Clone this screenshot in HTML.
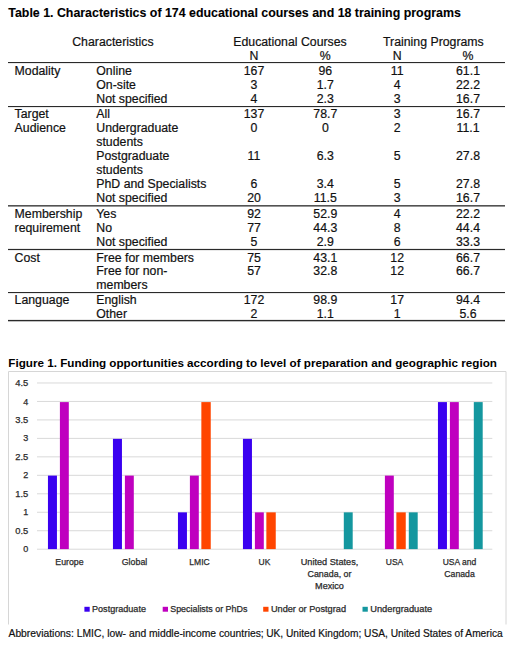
<!DOCTYPE html>
<html><head><meta charset="utf-8"><style>
html,body{margin:0;padding:0;background:#fff;}
body{width:520px;height:647px;overflow:hidden;}
svg{display:block;font-family:"Liberation Sans", sans-serif;}
</style></head><body>
<svg width="520" height="647" viewBox="0 0 520 647">
<rect width="520" height="647" fill="#fff"/>
<text x="8.3" y="16.70" font-size="12.3" text-anchor="start" font-weight="700" fill="#000" textLength="452.5" lengthAdjust="spacingAndGlyphs" stroke="#000" stroke-width="0.1">Table 1. Characteristics of 174 educational courses and 18 training programs</text>
<text x="112.9" y="45.80" font-size="12.3" text-anchor="middle" font-weight="400" fill="#111" stroke="#111" stroke-width="0.2">Characteristics</text>
<text x="290" y="45.80" font-size="12.3" text-anchor="middle" font-weight="400" fill="#111" stroke="#111" stroke-width="0.2">Educational Courses</text>
<text x="433.4" y="45.80" font-size="12.3" text-anchor="middle" font-weight="400" fill="#111" stroke="#111" stroke-width="0.2">Training Programs</text>
<text x="254" y="59.80" font-size="12.3" text-anchor="middle" font-weight="400" fill="#111" stroke="#111" stroke-width="0.2">N</text>
<text x="397.2" y="59.80" font-size="12.3" text-anchor="middle" font-weight="400" fill="#111" stroke="#111" stroke-width="0.2">N</text>
<text x="325.3" y="59.80" font-size="12.3" text-anchor="middle" font-weight="400" fill="#111" stroke="#111" stroke-width="0.2">%</text>
<text x="468" y="59.80" font-size="12.3" text-anchor="middle" font-weight="400" fill="#111" stroke="#111" stroke-width="0.2">%</text>
<text x="14.6" y="74.90" font-size="12.3" text-anchor="start" font-weight="400" fill="#111" stroke="#111" stroke-width="0.2">Modality</text>
<text x="96.3" y="74.90" font-size="12.3" text-anchor="start" font-weight="400" fill="#111" stroke="#111" stroke-width="0.2">Online</text>
<text x="254" y="74.90" font-size="12.3" text-anchor="middle" font-weight="400" fill="#111" stroke="#111" stroke-width="0.2">167</text>
<text x="325.3" y="74.90" font-size="12.3" text-anchor="middle" font-weight="400" fill="#111" stroke="#111" stroke-width="0.2">96</text>
<text x="397.2" y="74.90" font-size="12.3" text-anchor="middle" font-weight="400" fill="#111" stroke="#111" stroke-width="0.2">11</text>
<text x="468" y="74.90" font-size="12.3" text-anchor="middle" font-weight="400" fill="#111" stroke="#111" stroke-width="0.2">61.1</text>
<text x="96.3" y="88.80" font-size="12.3" text-anchor="start" font-weight="400" fill="#111" stroke="#111" stroke-width="0.2">On-site</text>
<text x="254" y="88.80" font-size="12.3" text-anchor="middle" font-weight="400" fill="#111" stroke="#111" stroke-width="0.2">3</text>
<text x="325.3" y="88.80" font-size="12.3" text-anchor="middle" font-weight="400" fill="#111" stroke="#111" stroke-width="0.2">1.7</text>
<text x="397.2" y="88.80" font-size="12.3" text-anchor="middle" font-weight="400" fill="#111" stroke="#111" stroke-width="0.2">4</text>
<text x="468" y="88.80" font-size="12.3" text-anchor="middle" font-weight="400" fill="#111" stroke="#111" stroke-width="0.2">22.2</text>
<text x="96.3" y="102.90" font-size="12.3" text-anchor="start" font-weight="400" fill="#111" stroke="#111" stroke-width="0.2">Not specified</text>
<text x="254" y="102.90" font-size="12.3" text-anchor="middle" font-weight="400" fill="#111" stroke="#111" stroke-width="0.2">4</text>
<text x="325.3" y="102.90" font-size="12.3" text-anchor="middle" font-weight="400" fill="#111" stroke="#111" stroke-width="0.2">2.3</text>
<text x="397.2" y="102.90" font-size="12.3" text-anchor="middle" font-weight="400" fill="#111" stroke="#111" stroke-width="0.2">3</text>
<text x="468" y="102.90" font-size="12.3" text-anchor="middle" font-weight="400" fill="#111" stroke="#111" stroke-width="0.2">16.7</text>
<text x="14.6" y="118.20" font-size="12.3" text-anchor="start" font-weight="400" fill="#111" stroke="#111" stroke-width="0.2">Target</text>
<text x="96.3" y="118.20" font-size="12.3" text-anchor="start" font-weight="400" fill="#111" stroke="#111" stroke-width="0.2">All</text>
<text x="254" y="118.20" font-size="12.3" text-anchor="middle" font-weight="400" fill="#111" stroke="#111" stroke-width="0.2">137</text>
<text x="325.3" y="118.20" font-size="12.3" text-anchor="middle" font-weight="400" fill="#111" stroke="#111" stroke-width="0.2">78.7</text>
<text x="397.2" y="118.20" font-size="12.3" text-anchor="middle" font-weight="400" fill="#111" stroke="#111" stroke-width="0.2">3</text>
<text x="468" y="118.20" font-size="12.3" text-anchor="middle" font-weight="400" fill="#111" stroke="#111" stroke-width="0.2">16.7</text>
<text x="14.6" y="132.10" font-size="12.3" text-anchor="start" font-weight="400" fill="#111" stroke="#111" stroke-width="0.2">Audience</text>
<text x="96.3" y="132.10" font-size="12.3" text-anchor="start" font-weight="400" fill="#111" stroke="#111" stroke-width="0.2">Undergraduate</text>
<text x="254" y="132.10" font-size="12.3" text-anchor="middle" font-weight="400" fill="#111" stroke="#111" stroke-width="0.2">0</text>
<text x="325.3" y="132.10" font-size="12.3" text-anchor="middle" font-weight="400" fill="#111" stroke="#111" stroke-width="0.2">0</text>
<text x="397.2" y="132.10" font-size="12.3" text-anchor="middle" font-weight="400" fill="#111" stroke="#111" stroke-width="0.2">2</text>
<text x="468" y="132.10" font-size="12.3" text-anchor="middle" font-weight="400" fill="#111" stroke="#111" stroke-width="0.2">11.1</text>
<text x="96.3" y="146.00" font-size="12.3" text-anchor="start" font-weight="400" fill="#111" stroke="#111" stroke-width="0.2">students</text>
<text x="96.3" y="159.90" font-size="12.3" text-anchor="start" font-weight="400" fill="#111" stroke="#111" stroke-width="0.2">Postgraduate</text>
<text x="254" y="159.90" font-size="12.3" text-anchor="middle" font-weight="400" fill="#111" stroke="#111" stroke-width="0.2">11</text>
<text x="325.3" y="159.90" font-size="12.3" text-anchor="middle" font-weight="400" fill="#111" stroke="#111" stroke-width="0.2">6.3</text>
<text x="397.2" y="159.90" font-size="12.3" text-anchor="middle" font-weight="400" fill="#111" stroke="#111" stroke-width="0.2">5</text>
<text x="468" y="159.90" font-size="12.3" text-anchor="middle" font-weight="400" fill="#111" stroke="#111" stroke-width="0.2">27.8</text>
<text x="96.3" y="173.80" font-size="12.3" text-anchor="start" font-weight="400" fill="#111" stroke="#111" stroke-width="0.2">students</text>
<text x="96.3" y="187.80" font-size="12.3" text-anchor="start" font-weight="400" fill="#111" stroke="#111" stroke-width="0.2">PhD and Specialists</text>
<text x="254" y="187.80" font-size="12.3" text-anchor="middle" font-weight="400" fill="#111" stroke="#111" stroke-width="0.2">6</text>
<text x="325.3" y="187.80" font-size="12.3" text-anchor="middle" font-weight="400" fill="#111" stroke="#111" stroke-width="0.2">3.4</text>
<text x="397.2" y="187.80" font-size="12.3" text-anchor="middle" font-weight="400" fill="#111" stroke="#111" stroke-width="0.2">5</text>
<text x="468" y="187.80" font-size="12.3" text-anchor="middle" font-weight="400" fill="#111" stroke="#111" stroke-width="0.2">27.8</text>
<text x="96.3" y="201.80" font-size="12.3" text-anchor="start" font-weight="400" fill="#111" stroke="#111" stroke-width="0.2">Not specified</text>
<text x="254" y="201.80" font-size="12.3" text-anchor="middle" font-weight="400" fill="#111" stroke="#111" stroke-width="0.2">20</text>
<text x="325.3" y="201.80" font-size="12.3" text-anchor="middle" font-weight="400" fill="#111" stroke="#111" stroke-width="0.2">11.5</text>
<text x="397.2" y="201.80" font-size="12.3" text-anchor="middle" font-weight="400" fill="#111" stroke="#111" stroke-width="0.2">3</text>
<text x="468" y="201.80" font-size="12.3" text-anchor="middle" font-weight="400" fill="#111" stroke="#111" stroke-width="0.2">16.7</text>
<text x="14.6" y="218.00" font-size="12.3" text-anchor="start" font-weight="400" fill="#111" stroke="#111" stroke-width="0.2">Membership</text>
<text x="96.3" y="218.00" font-size="12.3" text-anchor="start" font-weight="400" fill="#111" stroke="#111" stroke-width="0.2">Yes</text>
<text x="254" y="218.00" font-size="12.3" text-anchor="middle" font-weight="400" fill="#111" stroke="#111" stroke-width="0.2">92</text>
<text x="325.3" y="218.00" font-size="12.3" text-anchor="middle" font-weight="400" fill="#111" stroke="#111" stroke-width="0.2">52.9</text>
<text x="397.2" y="218.00" font-size="12.3" text-anchor="middle" font-weight="400" fill="#111" stroke="#111" stroke-width="0.2">4</text>
<text x="468" y="218.00" font-size="12.3" text-anchor="middle" font-weight="400" fill="#111" stroke="#111" stroke-width="0.2">22.2</text>
<text x="14.6" y="232.00" font-size="12.3" text-anchor="start" font-weight="400" fill="#111" stroke="#111" stroke-width="0.2">requirement</text>
<text x="96.3" y="232.00" font-size="12.3" text-anchor="start" font-weight="400" fill="#111" stroke="#111" stroke-width="0.2">No</text>
<text x="254" y="232.00" font-size="12.3" text-anchor="middle" font-weight="400" fill="#111" stroke="#111" stroke-width="0.2">77</text>
<text x="325.3" y="232.00" font-size="12.3" text-anchor="middle" font-weight="400" fill="#111" stroke="#111" stroke-width="0.2">44.3</text>
<text x="397.2" y="232.00" font-size="12.3" text-anchor="middle" font-weight="400" fill="#111" stroke="#111" stroke-width="0.2">8</text>
<text x="468" y="232.00" font-size="12.3" text-anchor="middle" font-weight="400" fill="#111" stroke="#111" stroke-width="0.2">44.4</text>
<text x="96.3" y="246.10" font-size="12.3" text-anchor="start" font-weight="400" fill="#111" stroke="#111" stroke-width="0.2">Not specified</text>
<text x="254" y="246.10" font-size="12.3" text-anchor="middle" font-weight="400" fill="#111" stroke="#111" stroke-width="0.2">5</text>
<text x="325.3" y="246.10" font-size="12.3" text-anchor="middle" font-weight="400" fill="#111" stroke="#111" stroke-width="0.2">2.9</text>
<text x="397.2" y="246.10" font-size="12.3" text-anchor="middle" font-weight="400" fill="#111" stroke="#111" stroke-width="0.2">6</text>
<text x="468" y="246.10" font-size="12.3" text-anchor="middle" font-weight="400" fill="#111" stroke="#111" stroke-width="0.2">33.3</text>
<text x="14.6" y="261.50" font-size="12.3" text-anchor="start" font-weight="400" fill="#111" stroke="#111" stroke-width="0.2">Cost</text>
<text x="96.3" y="261.50" font-size="12.3" text-anchor="start" font-weight="400" fill="#111" stroke="#111" stroke-width="0.2">Free for members</text>
<text x="254" y="261.50" font-size="12.3" text-anchor="middle" font-weight="400" fill="#111" stroke="#111" stroke-width="0.2">75</text>
<text x="325.3" y="261.50" font-size="12.3" text-anchor="middle" font-weight="400" fill="#111" stroke="#111" stroke-width="0.2">43.1</text>
<text x="397.2" y="261.50" font-size="12.3" text-anchor="middle" font-weight="400" fill="#111" stroke="#111" stroke-width="0.2">12</text>
<text x="468" y="261.50" font-size="12.3" text-anchor="middle" font-weight="400" fill="#111" stroke="#111" stroke-width="0.2">66.7</text>
<text x="96.3" y="275.10" font-size="12.3" text-anchor="start" font-weight="400" fill="#111" stroke="#111" stroke-width="0.2">Free for non-</text>
<text x="254" y="275.10" font-size="12.3" text-anchor="middle" font-weight="400" fill="#111" stroke="#111" stroke-width="0.2">57</text>
<text x="325.3" y="275.10" font-size="12.3" text-anchor="middle" font-weight="400" fill="#111" stroke="#111" stroke-width="0.2">32.8</text>
<text x="397.2" y="275.10" font-size="12.3" text-anchor="middle" font-weight="400" fill="#111" stroke="#111" stroke-width="0.2">12</text>
<text x="468" y="275.10" font-size="12.3" text-anchor="middle" font-weight="400" fill="#111" stroke="#111" stroke-width="0.2">66.7</text>
<text x="96.3" y="289.00" font-size="12.3" text-anchor="start" font-weight="400" fill="#111" stroke="#111" stroke-width="0.2">members</text>
<text x="14.6" y="304.00" font-size="12.3" text-anchor="start" font-weight="400" fill="#111" stroke="#111" stroke-width="0.2">Language</text>
<text x="96.3" y="304.00" font-size="12.3" text-anchor="start" font-weight="400" fill="#111" stroke="#111" stroke-width="0.2">English</text>
<text x="254" y="304.00" font-size="12.3" text-anchor="middle" font-weight="400" fill="#111" stroke="#111" stroke-width="0.2">172</text>
<text x="325.3" y="304.00" font-size="12.3" text-anchor="middle" font-weight="400" fill="#111" stroke="#111" stroke-width="0.2">98.9</text>
<text x="397.2" y="304.00" font-size="12.3" text-anchor="middle" font-weight="400" fill="#111" stroke="#111" stroke-width="0.2">17</text>
<text x="468" y="304.00" font-size="12.3" text-anchor="middle" font-weight="400" fill="#111" stroke="#111" stroke-width="0.2">94.4</text>
<text x="96.3" y="318.00" font-size="12.3" text-anchor="start" font-weight="400" fill="#111" stroke="#111" stroke-width="0.2">Other</text>
<text x="254" y="318.00" font-size="12.3" text-anchor="middle" font-weight="400" fill="#111" stroke="#111" stroke-width="0.2">2</text>
<text x="325.3" y="318.00" font-size="12.3" text-anchor="middle" font-weight="400" fill="#111" stroke="#111" stroke-width="0.2">1.1</text>
<text x="397.2" y="318.00" font-size="12.3" text-anchor="middle" font-weight="400" fill="#111" stroke="#111" stroke-width="0.2">1</text>
<text x="468" y="318.00" font-size="12.3" text-anchor="middle" font-weight="400" fill="#111" stroke="#111" stroke-width="0.2">5.6</text>
<rect x="8" y="62" width="497" height="1.1" fill="#2a2a2a"/>
<rect x="8" y="106" width="497" height="1.1" fill="#2a2a2a"/>
<rect x="8" y="205.2" width="497" height="1.3" fill="#2a2a2a"/>
<rect x="8" y="248.9" width="497" height="1.2" fill="#2a2a2a"/>
<rect x="8" y="292" width="497" height="1.1" fill="#2a2a2a"/>
<rect x="8" y="319.9" width="497" height="1.4" fill="#2a2a2a"/>
<text x="8.3" y="367.30" font-size="11" text-anchor="start" font-weight="700" fill="#000" textLength="488.6" lengthAdjust="spacingAndGlyphs">Figure 1. Funding opportunities according to level of preparation and geographic region</text>
<path d="M8.5 624.5V371.5H506V624.5" fill="none" stroke="#d6d6d6" stroke-width="1"/>
<rect x="37" y="548.70" width="455.3" height="1" fill="#d9d9d9"/>
<text x="28.2" y="552.30" font-size="9" text-anchor="end" font-weight="400" fill="#2b2b2b" stroke="#2b2b2b" stroke-width="0.25">0</text>
<rect x="37" y="530.23" width="455.3" height="1" fill="#d9d9d9"/>
<text x="28.2" y="533.83" font-size="9" text-anchor="end" font-weight="400" fill="#2b2b2b" textLength="13.0" lengthAdjust="spacingAndGlyphs" stroke="#2b2b2b" stroke-width="0.25">0.5</text>
<rect x="37" y="511.76" width="455.3" height="1" fill="#d9d9d9"/>
<text x="28.2" y="515.36" font-size="9" text-anchor="end" font-weight="400" fill="#2b2b2b" stroke="#2b2b2b" stroke-width="0.25">1</text>
<rect x="37" y="493.29" width="455.3" height="1" fill="#d9d9d9"/>
<text x="28.2" y="496.89" font-size="9" text-anchor="end" font-weight="400" fill="#2b2b2b" textLength="13.0" lengthAdjust="spacingAndGlyphs" stroke="#2b2b2b" stroke-width="0.25">1.5</text>
<rect x="37" y="474.82" width="455.3" height="1" fill="#d9d9d9"/>
<text x="28.2" y="478.42" font-size="9" text-anchor="end" font-weight="400" fill="#2b2b2b" stroke="#2b2b2b" stroke-width="0.25">2</text>
<rect x="37" y="456.35" width="455.3" height="1" fill="#d9d9d9"/>
<text x="28.2" y="459.95" font-size="9" text-anchor="end" font-weight="400" fill="#2b2b2b" textLength="13.0" lengthAdjust="spacingAndGlyphs" stroke="#2b2b2b" stroke-width="0.25">2.5</text>
<rect x="37" y="437.88" width="455.3" height="1" fill="#d9d9d9"/>
<text x="28.2" y="441.48" font-size="9" text-anchor="end" font-weight="400" fill="#2b2b2b" stroke="#2b2b2b" stroke-width="0.25">3</text>
<rect x="37" y="419.41" width="455.3" height="1" fill="#d9d9d9"/>
<text x="28.2" y="423.01" font-size="9" text-anchor="end" font-weight="400" fill="#2b2b2b" textLength="13.0" lengthAdjust="spacingAndGlyphs" stroke="#2b2b2b" stroke-width="0.25">3.5</text>
<rect x="37" y="400.94" width="455.3" height="1" fill="#d9d9d9"/>
<text x="28.2" y="404.54" font-size="9" text-anchor="end" font-weight="400" fill="#2b2b2b" stroke="#2b2b2b" stroke-width="0.25">4</text>
<rect x="37" y="382.47" width="455.3" height="1" fill="#d9d9d9"/>
<text x="28.2" y="386.07" font-size="9" text-anchor="end" font-weight="400" fill="#2b2b2b" textLength="13.0" lengthAdjust="spacingAndGlyphs" stroke="#2b2b2b" stroke-width="0.25">4.5</text>
<rect x="47.95" y="475.60" width="9.0" height="73.50" fill="#3a00f0"/>
<rect x="59.90" y="402.10" width="8.9" height="147.00" fill="#bf00bf"/>
<text x="69.5" y="565.30" font-size="8.5" text-anchor="middle" font-weight="400" fill="#2b2b2b" textLength="28.3" lengthAdjust="spacingAndGlyphs" stroke="#2b2b2b" stroke-width="0.25">Europe</text>
<rect x="112.95" y="438.85" width="9.0" height="110.25" fill="#3a00f0"/>
<rect x="124.90" y="475.60" width="8.9" height="73.50" fill="#bf00bf"/>
<text x="134.5" y="565.30" font-size="8.5" text-anchor="middle" font-weight="400" fill="#2b2b2b" textLength="25.5" lengthAdjust="spacingAndGlyphs" stroke="#2b2b2b" stroke-width="0.25">Global</text>
<rect x="177.95" y="512.35" width="9.0" height="36.75" fill="#3a00f0"/>
<rect x="189.90" y="475.60" width="8.9" height="73.50" fill="#bf00bf"/>
<rect x="201.35" y="402.10" width="9.4" height="147.00" fill="#ff4500"/>
<text x="199.5" y="565.30" font-size="8.5" text-anchor="middle" font-weight="400" fill="#2b2b2b" stroke="#2b2b2b" stroke-width="0.25">LMIC</text>
<rect x="242.95" y="438.85" width="9.0" height="110.25" fill="#3a00f0"/>
<rect x="254.90" y="512.35" width="8.9" height="36.75" fill="#bf00bf"/>
<rect x="266.35" y="512.35" width="9.4" height="36.75" fill="#ff4500"/>
<text x="264.5" y="565.30" font-size="8.5" text-anchor="middle" font-weight="400" fill="#2b2b2b" stroke="#2b2b2b" stroke-width="0.25">UK</text>
<rect x="343.80" y="512.35" width="8.9" height="36.75" fill="#14979f"/>
<text x="329.5" y="565.30" font-size="8.5" text-anchor="middle" font-weight="400" fill="#2b2b2b" textLength="57.5" lengthAdjust="spacingAndGlyphs" stroke="#2b2b2b" stroke-width="0.25">United States,</text>
<text x="329.5" y="577.30" font-size="8.5" text-anchor="middle" font-weight="400" fill="#2b2b2b" textLength="44" lengthAdjust="spacingAndGlyphs" stroke="#2b2b2b" stroke-width="0.25">Canada, or</text>
<text x="329.5" y="589.30" font-size="8.5" text-anchor="middle" font-weight="400" fill="#2b2b2b" textLength="28.8" lengthAdjust="spacingAndGlyphs" stroke="#2b2b2b" stroke-width="0.25">Mexico</text>
<rect x="384.90" y="475.60" width="8.9" height="73.50" fill="#bf00bf"/>
<rect x="396.35" y="512.35" width="9.4" height="36.75" fill="#ff4500"/>
<rect x="408.80" y="512.35" width="8.9" height="36.75" fill="#14979f"/>
<text x="394.5" y="565.30" font-size="8.5" text-anchor="middle" font-weight="400" fill="#2b2b2b" stroke="#2b2b2b" stroke-width="0.25">USA</text>
<rect x="437.95" y="402.10" width="9.0" height="147.00" fill="#3a00f0"/>
<rect x="449.90" y="402.10" width="8.9" height="147.00" fill="#bf00bf"/>
<rect x="473.80" y="402.10" width="8.9" height="147.00" fill="#14979f"/>
<text x="459.5" y="565.30" font-size="8.5" text-anchor="middle" font-weight="400" fill="#2b2b2b" stroke="#2b2b2b" stroke-width="0.25">USA and</text>
<text x="459.5" y="577.30" font-size="8.5" text-anchor="middle" font-weight="400" fill="#2b2b2b" textLength="30.5" lengthAdjust="spacingAndGlyphs" stroke="#2b2b2b" stroke-width="0.25">Canada</text>
<rect x="84.4" y="606.8" width="5.3" height="4.9" fill="#3a00f0"/>
<text x="92" y="612.20" font-size="8.5" text-anchor="start" font-weight="400" fill="#2b2b2b" textLength="54" lengthAdjust="spacingAndGlyphs" stroke="#2b2b2b" stroke-width="0.25">Postgraduate</text>
<rect x="162.7" y="606.8" width="5.3" height="4.9" fill="#bf00bf"/>
<text x="170.2" y="612.20" font-size="8.5" text-anchor="start" font-weight="400" fill="#2b2b2b" textLength="77.2" lengthAdjust="spacingAndGlyphs" stroke="#2b2b2b" stroke-width="0.25">Specialists or PhDs</text>
<rect x="263.2" y="606.8" width="5.3" height="4.9" fill="#ff4500"/>
<text x="270.9" y="612.20" font-size="8.5" text-anchor="start" font-weight="400" fill="#2b2b2b" textLength="75.1" lengthAdjust="spacingAndGlyphs" stroke="#2b2b2b" stroke-width="0.25">Under or Postgrad</text>
<rect x="362.5" y="606.8" width="5.3" height="4.9" fill="#14979f"/>
<text x="370.2" y="612.20" font-size="8.5" text-anchor="start" font-weight="400" fill="#2b2b2b" textLength="62.0" lengthAdjust="spacingAndGlyphs" stroke="#2b2b2b" stroke-width="0.25">Undergraduate</text>
<text x="8.5" y="636.90" font-size="10.9" text-anchor="start" font-weight="400" fill="#111" textLength="255.2" lengthAdjust="spacingAndGlyphs" stroke="#111" stroke-width="0.2">Abbreviations: LMIC, low- and middle-income countries;</text>
<text x="266.2" y="636.90" font-size="10.9" text-anchor="start" font-weight="400" fill="#111" textLength="236.5" lengthAdjust="spacingAndGlyphs" stroke="#111" stroke-width="0.2">UK, United Kingdom; USA, United States of America</text>
</svg>
</body></html>
